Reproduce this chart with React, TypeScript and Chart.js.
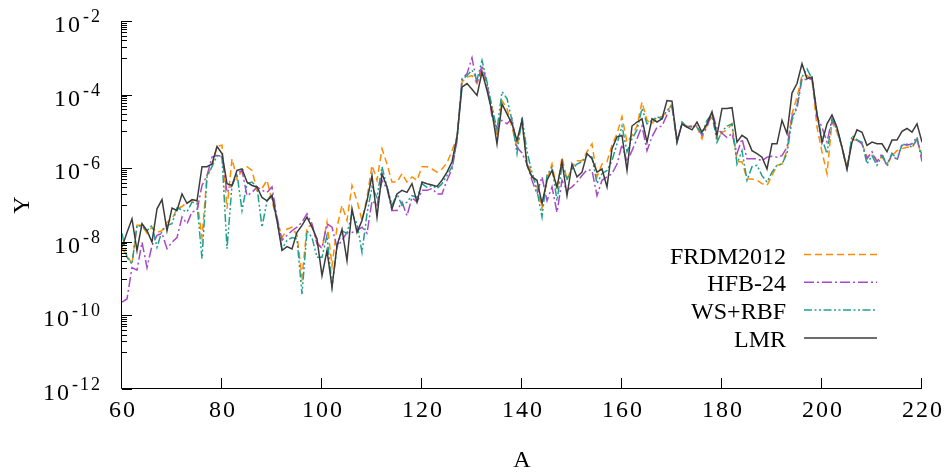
import React, { useEffect, useRef } from 'react';
import { Chart, registerables } from 'chart.js';

Chart.register(...registerables);

const MASS_NUMBERS = [
  60, 61, 62, 63, 64, 65, 66, 67, 68, 69,
  70, 71, 72, 73, 74, 75, 76, 77, 78, 79,
  80, 81, 82, 83, 84, 85, 86, 87, 88, 89,
  90, 91, 92, 93, 94, 95, 96, 97, 98, 99,
  100, 101, 102, 103, 104, 105, 106, 107, 108, 109,
  110, 111, 112, 113, 114, 115, 116, 117, 118, 119,
  120, 121, 122, 123, 124, 125, 126, 127, 128, 129,
  130, 131, 132, 133, 134, 135, 136, 137, 138, 139,
  140, 141, 142, 143, 144, 145, 146, 147, 148, 149,
  150, 151, 152, 153, 154, 155, 156, 157, 158, 159,
  160, 161, 162, 163, 164, 165, 166, 167, 168, 169,
  170, 171, 172, 173, 174, 175, 176, 177, 178, 179,
  180, 181, 182, 183, 184, 185, 186, 187, 188, 189,
  190, 191, 192, 193, 194, 195, 196, 197, 198, 199,
  200, 201, 202, 203, 204, 205, 206, 207, 208, 209,
  210, 211, 212, 213, 214, 215, 216, 217, 218, 219,
  220,
];

const FRDM2012 = [
  6.5e-9, 4.3e-9, 2.5e-9, 2.8e-8, 2.8e-8, 1.7e-8, 2.5e-8, 1.8e-8, 2.0e-8, 3.4e-8,
  4.2e-8, 7.9e-8, 9.1e-8, 1.2e-7, 1.3e-7, 1.4e-7, 1.3e-8, 6.3e-7, 1.1e-6, 3.9e-6,
  4.2e-6, 7.9e-8, 1.8e-6, 5.1e-7, 8.7e-7, 1.1e-6, 8.7e-7, 2.5e-7, 2.8e-7, 4.7e-7,
  1.3e-7, 3.8e-8, 1.3e-8, 2.2e-8, 2.5e-8, 1.5e-8, 1.1e-9, 2.5e-8, 2.8e-8, 9.8e-9,
  6.5e-9, 3.4e-8, 2.2e-9, 2.5e-8, 9.8e-8, 3.8e-8, 3.4e-7, 1.3e-7, 3.8e-8, 1.6e-7,
  1.2e-6, 4.7e-7, 3.4e-6, 1.3e-6, 4.2e-7, 4.2e-7, 7.1e-7, 4.2e-7, 5.8e-7, 4.7e-7,
  1.1e-6, 1.1e-6, 9.5e-7, 7.8e-7, 9.5e-7, 1.4e-6, 3.0e-6, 7.1e-6, 2.2e-4, 3.0e-4,
  3.3e-4, 2.0e-4, 4.6e-4, 1.6e-4, 4.6e-5, 7.1e-6, 6.9e-5, 4.2e-5, 1.3e-5, 3.7e-6,
  1.8e-5, 1.5e-6, 7.1e-7, 3.1e-7, 7.9e-8, 4.7e-7, 1.3e-6, 2.5e-7, 2.0e-6, 4.7e-7,
  1.1e-6, 1.6e-6, 1.6e-6, 2.8e-6, 4.6e-6, 5.8e-7, 1.3e-6, 1.5e-6, 4.2e-6, 8.7e-6,
  2.5e-5, 5.1e-6, 7.8e-6, 1.4e-5, 6.3e-5, 2.0e-5, 1.6e-5, 2.5e-5, 2.5e-5, 3.4e-5,
  5.6e-5, 5.6e-6, 1.6e-5, 1.4e-5, 1.3e-5, 1.3e-5, 6.3e-6, 1.6e-5, 2.5e-5, 6.3e-6,
  9.3e-6, 1.1e-5, 1.6e-5, 1.5e-6, 1.5e-6, 5.1e-7, 5.1e-7, 4.7e-7, 3.8e-7, 3.4e-7,
  6.3e-7, 1.2e-6, 1.3e-6, 3.0e-6, 3.0e-5, 8.5e-5, 3.3e-4, 3.3e-4, 2.7e-4, 1.3e-5,
  2.8e-6, 7.1e-7, 1.8e-5, 9.5e-6, 3.7e-6, 1.1e-6, 5.8e-6, 5.8e-6, 4.6e-6, 2.0e-6,
  2.5e-6, 1.6e-6, 2.0e-6, 1.3e-6, 2.2e-6, 3.0e-6, 3.4e-6, 3.7e-6, 3.7e-6, 5.8e-6,
  2.0e-6,
];

const HFB24 = [
  2.3e-10, 2.8e-10, 2.0e-9, 1.7e-9, 9.8e-9, 2.0e-9, 7.9e-9, 1.5e-8, 1.7e-8, 6.5e-9,
  9.8e-9, 1.3e-8, 4.7e-8, 3.1e-8, 6.5e-8, 7.1e-8, 3.4e-7, 6.3e-7, 2.0e-6, 2.2e-6,
  2.1e-6, 2.2e-7, 3.4e-7, 7.1e-7, 8.7e-7, 1.8e-7, 2.2e-7, 3.1e-7, 2.5e-7, 2.2e-7,
  3.1e-7, 4.7e-8, 1.1e-8, 1.5e-8, 2.0e-8, 2.5e-8, 3.4e-8, 5.8e-8, 3.1e-8, 8.7e-9,
  6.8e-9, 3.1e-8, 2.5e-8, 7.1e-9, 1.1e-8, 1.8e-8, 1.8e-8, 2.0e-8, 2.5e-8, 1.7e-8,
  1.3e-7, 9.8e-8, 4.7e-7, 2.8e-7, 7.1e-8, 7.1e-8, 1.2e-7, 5.1e-8, 1.6e-7, 1.2e-7,
  2.5e-7, 2.5e-7, 2.8e-7, 2.0e-7, 2.0e-7, 4.7e-7, 9.5e-7, 5.6e-6, 2.7e-4, 3.7e-4,
  1.0e-3, 2.0e-4, 6.3e-4, 2.0e-4, 2.5e-5, 1.2e-5, 2.0e-5, 1.6e-5, 2.2e-5, 3.7e-6,
  2.6e-6, 1.3e-6, 4.7e-7, 2.0e-7, 5.8e-7, 1.3e-7, 3.1e-7, 6.3e-8, 4.7e-7, 2.5e-7,
  3.1e-7, 4.2e-7, 6.3e-7, 9.1e-7, 8.7e-7, 1.8e-7, 4.7e-7, 5.8e-7, 7.1e-7, 1.3e-6,
  4.4e-6, 1.5e-6, 3.0e-6, 6.3e-6, 1.4e-5, 3.0e-6, 7.1e-6, 1.3e-5, 1.4e-5, 2.8e-5,
  4.6e-5, 5.6e-6, 1.6e-5, 1.3e-5, 1.4e-5, 1.4e-5, 7.8e-6, 1.3e-5, 3.4e-5, 1.2e-5,
  8.9e-6, 6.8e-6, 8.7e-6, 2.5e-6, 6.3e-6, 1.8e-6, 1.8e-6, 1.8e-6, 1.6e-6, 2.0e-6,
  2.1e-6, 2.0e-6, 2.2e-6, 3.7e-6, 2.5e-5, 4.2e-5, 2.7e-4, 2.5e-4, 2.7e-4, 2.5e-5,
  1.3e-5, 5.1e-6, 2.2e-5, 1.2e-5, 3.7e-6, 9.5e-7, 6.3e-6, 5.8e-6, 4.6e-6, 1.8e-6,
  2.8e-6, 1.5e-6, 2.5e-6, 1.1e-6, 2.5e-6, 1.6e-6, 4.6e-6, 4.2e-6, 4.6e-6, 7.1e-6,
  1.5e-6,
];

const WS_RBF = [
  1.7e-8, 3.8e-9, 2.5e-9, 2.8e-8, 2.6e-8, 2.0e-8, 2.8e-8, 7.1e-9, 2.0e-8, 2.8e-8,
  3.1e-8, 8.3e-8, 7.4e-8, 6.5e-8, 1.2e-7, 1.1e-7, 3.5e-9, 5.8e-7, 1.1e-6, 2.2e-6,
  2.0e-6, 6.5e-9, 3.4e-7, 7.1e-7, 7.1e-8, 3.8e-7, 4.2e-7, 3.1e-7, 2.5e-8, 1.3e-7,
  2.0e-7, 3.8e-8, 6.5e-9, 1.1e-8, 1.3e-8, 1.2e-8, 3.8e-10, 2.0e-8, 1.3e-8, 3.8e-9,
  3.8e-9, 1.5e-8, 5.9e-10, 7.1e-9, 2.0e-8, 1.7e-8, 5.8e-8, 3.1e-8, 5.2e-9, 5.8e-8,
  3.1e-7, 1.6e-7, 1.1e-6, 3.1e-7, 9.8e-8, 2.0e-7, 9.8e-8, 1.2e-7, 1.8e-7, 1.6e-7,
  3.8e-7, 3.0e-7, 3.4e-7, 2.8e-7, 3.8e-7, 6.3e-7, 1.1e-6, 5.6e-6, 2.5e-4, 3.3e-4,
  4.6e-4, 2.5e-4, 8.5e-4, 2.2e-4, 4.6e-5, 1.1e-5, 1.2e-4, 7.8e-5, 2.0e-5, 2.5e-6,
  2.5e-5, 2.8e-6, 7.8e-7, 2.5e-7, 4.7e-8, 6.3e-7, 1.1e-6, 1.3e-7, 1.2e-6, 5.1e-7,
  9.5e-7, 1.3e-6, 1.5e-6, 2.2e-6, 2.0e-6, 3.8e-7, 7.1e-7, 8.7e-7, 1.6e-6, 4.6e-6,
  1.4e-5, 2.8e-6, 6.3e-6, 1.1e-5, 4.2e-5, 1.6e-5, 2.0e-5, 2.5e-5, 2.2e-5, 3.7e-5,
  5.1e-5, 5.1e-6, 1.8e-5, 1.3e-5, 1.4e-5, 1.3e-5, 8.7e-6, 2.0e-5, 3.0e-5, 5.1e-6,
  1.0e-5, 1.4e-5, 1.6e-5, 1.3e-6, 3.0e-6, 4.7e-7, 1.1e-6, 1.2e-6, 6.3e-7, 4.2e-7,
  7.8e-7, 1.2e-6, 1.3e-6, 2.5e-6, 2.0e-5, 5.1e-5, 3.0e-4, 5.0e-4, 2.7e-4, 3.0e-5,
  6.3e-6, 2.5e-6, 2.0e-5, 1.1e-5, 3.7e-6, 8.7e-7, 7.8e-6, 5.9e-6, 5.1e-6, 1.3e-6,
  2.2e-6, 1.2e-6, 2.2e-6, 1.3e-6, 2.5e-6, 1.8e-6, 4.2e-6, 4.5e-6, 3.7e-6, 6.3e-6,
  2.2e-6,
];

const LMR = [
  7.1e-9, 1.8e-8, 4.2e-8, 5.8e-9, 3.1e-8, 2.0e-8, 9.8e-9, 7.9e-8, 1.4e-7, 2.0e-8,
  8.3e-8, 7.1e-8, 2.0e-7, 1.1e-7, 1.4e-7, 1.3e-7, 1.1e-6, 1.1e-6, 1.3e-6, 3.9e-6,
  2.5e-6, 3.8e-7, 3.4e-7, 8.7e-7, 9.6e-7, 4.2e-7, 3.4e-7, 3.1e-7, 1.6e-7, 1.3e-7,
  1.8e-7, 3.8e-8, 5.8e-9, 7.4e-9, 6.4e-9, 1.8e-8, 2.8e-8, 4.7e-8, 2.5e-8, 1.2e-8,
  1.2e-9, 5.8e-9, 5.9e-10, 7.9e-9, 2.2e-8, 3.1e-9, 7.9e-8, 1.8e-8, 3.8e-8, 1.3e-7,
  6.3e-7, 4.7e-8, 7.1e-7, 3.1e-7, 7.9e-8, 2.0e-7, 2.5e-7, 2.2e-7, 3.8e-7, 1.2e-7,
  4.2e-7, 3.8e-7, 3.5e-7, 3.2e-7, 4.7e-7, 7.8e-7, 1.5e-6, 7.1e-6, 1.6e-4, 2.0e-4,
  1.4e-4, 9.5e-5, 4.1e-4, 1.3e-4, 3.4e-5, 4.6e-6, 5.6e-5, 3.0e-5, 1.6e-5, 5.6e-6,
  2.0e-5, 1.2e-6, 5.8e-7, 4.7e-7, 1.1e-7, 4.7e-7, 8.7e-7, 3.1e-7, 1.5e-6, 1.8e-7,
  1.3e-6, 5.8e-7, 7.8e-7, 2.5e-6, 1.8e-6, 7.8e-7, 9.5e-7, 3.1e-7, 3.4e-6, 7.1e-6,
  7.8e-6, 8.7e-7, 1.4e-5, 1.8e-5, 2.2e-5, 5.1e-6, 2.2e-5, 1.8e-5, 2.2e-5, 6.9e-5,
  6.6e-5, 5.1e-6, 1.6e-5, 1.3e-5, 1.1e-5, 1.8e-5, 9.5e-6, 1.6e-5, 3.4e-5, 7.8e-6,
  4.2e-5, 4.2e-5, 4.4e-5, 5.1e-6, 7.8e-6, 6.3e-6, 3.0e-6, 2.5e-6, 2.0e-6, 9.5e-7,
  4.6e-6, 4.6e-6, 2.0e-5, 8.7e-6, 1.1e-4, 2.0e-4, 6.9e-4, 2.7e-4, 3.0e-4, 3.0e-5,
  5.0e-6, 1.6e-5, 2.8e-5, 1.3e-5, 3.7e-6, 9.5e-7, 5.1e-6, 1.1e-5, 9.5e-6, 4.2e-6,
  5.1e-6, 4.6e-6, 4.6e-6, 2.8e-6, 5.8e-6, 5.8e-6, 1.0e-5, 1.2e-5, 9.5e-6, 1.6e-5,
  5.1e-6,
];

const SERIES_LABELS = ['FRDM2012', 'HFB-24', 'WS+RBF', 'LMR'];
const X_TICKS = [60, 80, 100, 120, 140, 160, 180, 200, 220];
const Y_DECADES = [-2, -4, -6, -8, -10, -12];
const X_TITLE = 'A';
const Y_TITLE = 'Y';

const FONT = '"Liberation Serif", "Times New Roman", serif';

const decorPlugin = {
  id: 'decor',
  afterDraw(chart: any) {
    const ctx = chart.ctx as CanvasRenderingContext2D;
    const xs = chart.scales.x;
    const ys = chart.scales.y;
    const { left, bottom, right, top } = chart.chartArea;
    ctx.save();
    ctx.strokeStyle = '#000';
    ctx.fillStyle = '#000';
    ctx.lineWidth = 1;
    ctx.setLineDash([]);
    // axis lines
    ctx.beginPath();
    ctx.moveTo(left - 0.5, top);
    ctx.lineTo(left - 0.5, bottom - 0.5);
    ctx.lineTo(right, bottom - 0.5);
    ctx.stroke();
    // x ticks
    ctx.beginPath();
    for (const t of X_TICKS) {
      const px = Math.round(xs.getPixelForValue(t)) - 0.5;
      ctx.moveTo(px, bottom - 0.5);
      ctx.lineTo(px, bottom - 11);
    }
    // y ticks
    for (const e of Y_DECADES) {
      const py = Math.round(ys.getPixelForValue(Math.pow(10, e))) + 0.5;
      ctx.moveTo(left, py);
      ctx.lineTo(left + 10, py);
      for (let k = 1; k <= 9; k++) {
        const v = k * Math.pow(10, e - 1);
        if (v < ys.min) continue;
        const pm = Math.round(ys.getPixelForValue(v)) + 0.5;
        ctx.moveTo(left, pm);
        ctx.lineTo(left + 5, pm);
      }
    }
    ctx.stroke();

    // x labels
    (ctx as any).letterSpacing = '2px';
    ctx.font = `24px ${FONT}`;
    ctx.textAlign = 'center';
    ctx.textBaseline = 'alphabetic';
    for (const t of X_TICKS) {
      ctx.fillText(String(t), xs.getPixelForValue(t) + 1, bottom + 28);
    }
    // y labels
    for (const e of Y_DECADES) {
      const py = ys.getPixelForValue(Math.pow(10, e));
      ctx.textAlign = 'right';
      ctx.font = `18px ${FONT}`;
      const sup = String(e);
      const supW = ctx.measureText(sup).width;
      ctx.fillText(sup, 102, py + 1);
      ctx.font = `24px ${FONT}`;
      ctx.fillText('10', 102 - supW - 1, py + 11);
    }
    (ctx as any).letterSpacing = '0px';

    // titles
    ctx.font = `24px ${FONT}`;
    ctx.textAlign = 'center';
    ctx.textBaseline = 'middle';
    ctx.fillText(X_TITLE, (left + right) / 2, 461);
    ctx.save();
    ctx.translate(23, (top + bottom) / 2);
    ctx.rotate(-Math.PI / 2);
    ctx.fillText(Y_TITLE, 0, 0);
    ctx.restore();

    // legend
    const datasets = chart.data.datasets;
    ctx.textBaseline = 'alphabetic';
    ctx.textAlign = 'right';
    ctx.font = `24px ${FONT}`;
    datasets.forEach((ds: any, i: number) => {
      const ly = 254.5 + i * 27.8;
      ctx.fillStyle = '#000';
      ctx.fillText(ds.label, 786, ly + 9);
      ctx.beginPath();
      ctx.strokeStyle = ds.borderColor;
      ctx.lineWidth = ds.borderWidth;
      ctx.setLineDash(ds.borderDash || []);
      ctx.moveTo(804, ly);
      ctx.lineTo(877, ly);
      ctx.stroke();
    });
    ctx.restore();
  },
};

function toPoints(values: number[]) {
  return MASS_NUMBERS.map((a, i) => ({ x: a, y: values[i] }));
}

export default function App() {
  const canvasRef = useRef<HTMLCanvasElement | null>(null);

  useEffect(() => {
    document.body.style.margin = '0';
    const canvas = canvasRef.current;
    if (!canvas) return;
    const chart = new Chart(canvas, {
      type: 'line',
      data: {
        datasets: [
          {
            label: SERIES_LABELS[0],
            data: toPoints(FRDM2012),
            borderColor: '#ff8c00',
            borderWidth: 1.5,
            borderDash: [7, 4],
            pointRadius: 0,
            tension: 0,
            order: 3,
          },
          {
            label: SERIES_LABELS[1],
            data: toPoints(HFB24),
            borderColor: '#a848c8',
            borderWidth: 1.5,
            borderDash: [10, 3, 2, 3],
            pointRadius: 0,
            tension: 0,
            order: 2,
          },
          {
            label: SERIES_LABELS[2],
            data: toPoints(WS_RBF),
            borderColor: '#1fa08e',
            borderWidth: 1.5,
            borderDash: [8, 2.5, 2, 2.5, 2, 2.5],
            pointRadius: 0,
            tension: 0,
            order: 1,
          },
          {
            label: SERIES_LABELS[3],
            data: toPoints(LMR),
            borderColor: '#3c3c3c',
            borderWidth: 1.5,
            borderDash: [],
            pointRadius: 0,
            tension: 0,
            order: 0,
          },
        ],
      },
      options: {
        responsive: false,
        animation: false,
        events: [],
        layout: { padding: { top: 21, right: 25, left: 0, bottom: 0 } },
        plugins: { legend: { display: false }, tooltip: { enabled: false } },
        scales: {
          x: {
            type: 'linear',
            min: 60,
            max: 220,
            grid: { display: false, drawTicks: false },
            border: { display: false },
            ticks: { display: false },
            afterFit: (s: any) => {
              s.height = 84;
            },
          },
          y: {
            type: 'logarithmic',
            min: 1e-12,
            max: 1e-2,
            grid: { display: false, drawTicks: false },
            border: { display: false },
            ticks: { display: false },
            afterFit: (s: any) => {
              s.width = 122;
            },
          },
        },
      },
      plugins: [decorPlugin],
    });
    return () => chart.destroy();
  }, []);

  return (
    <canvas
      ref={canvasRef}
      width={947}
      height={473}
      style={{ display: 'block', width: '947px', height: '473px' }}
    />
  );
}
